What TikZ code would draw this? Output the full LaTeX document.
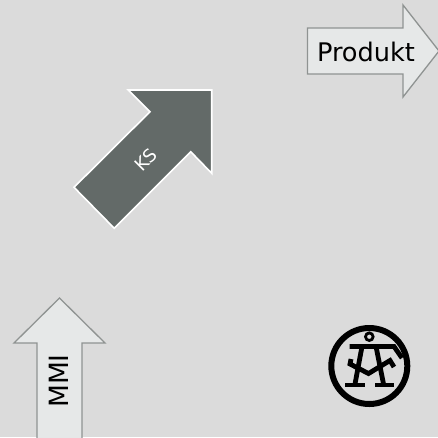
\documentclass[tikz,border=0pt]{standalone}
\usepackage{fontspec}
\setmainfont{DejaVu Sans}
\definecolor{bgc}{HTML}{DBDBDB}
\definecolor{ksc}{HTML}{636A68}
\definecolor{arrf}{HTML}{E6E8E8}
\definecolor{arrd}{HTML}{8F9392}
\tikzset{x=1pt,y=-1pt,
 lightarrow/.style={draw=arrd,fill=arrf,line width=1.3pt,line join=miter},
 lab/.style={font=\fontsize{25.6}{30}\selectfont,text=black,inner sep=0pt},
 logo/.style={draw=black,line width=4.8pt,line cap=butt,line join=miter,fill=none}}
\begin{document}
\begin{tikzpicture}
\fill[bgc] (0,0) rectangle (438,437);
\useasboundingbox (0,0) rectangle (438,437);
\draw[lightarrow] (307.5,28) -- (403,28) -- (403,5) -- (439,51) -- (403,97) -- (403,74) -- (307.5,74) -- cycle;
\node[lab] (produkt) at (366,52) {Produkt};
\draw[lightarrow] (37,440) -- (37,343) -- (14,343) -- (59.5,298) -- (105,343) -- (82,343) -- (82,440);
\node[lab,rotate=90,font=\fontsize{26.5}{30}\selectfont] (mmi) at (58.5,381) {MMI};
\draw[draw=white,fill=ksc,line width=1.6pt,line join=miter] (211.7,90) -- (128.3,90) -- (150,111.7) -- (74,187.3) -- (114.3,228.3) -- (190.7,151.7) -- (211.7,173.3) -- cycle;
\node[font=\fontsize{18}{22}\selectfont,text=white,rotate=45,inner sep=0pt] (ks) at (146,160) {KS};
\draw[black,line width=6pt] (369.3,366) circle (38);
\draw[black,line width=2.8pt] (369.3,336.7) circle (3.8);
\draw[logo] (349.5,346.5) -- (394,346.5) -- (402,358);
\draw[logo] (362,346.5) -- (355,384);
\draw[logo] (376,346.5) -- (383.5,384);
\draw[logo] (345,385) -- (365,385) (375,385) -- (393.5,385);
\draw[logo] (351,359) -- (350,364) -- (368.5,373.5) -- (390,360.5) -- (394,367);
\end{tikzpicture}
\end{document}
